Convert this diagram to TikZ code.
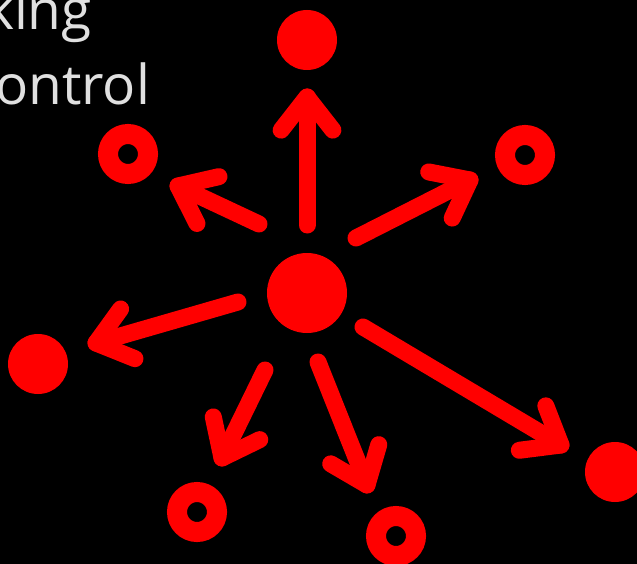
\documentclass[tikz,border=0pt]{standalone}
\usepackage{fontspec}
\setmainfont{Open Sans}
\usetikzlibrary{calc}
\definecolor{txtgray}{RGB}{224,224,224}
\tikzstyle{dot}=[circle,fill=red,inner sep=0pt,minimum size=60pt]
\tikzstyle{hubdot}=[circle,fill=red,inner sep=0pt,minimum size=80pt]
\tikzstyle{ring}=[circle,draw=red,line width=20pt,inner sep=0pt,minimum size=40pt]
\tikzstyle{link}=[red,line width=17pt,line cap=round,line join=round]
\tikzstyle{label}=[anchor=base west,inner sep=0pt,text=txtgray,font=\fontsize{55}{60}\selectfont]
\begin{document}
\begin{tikzpicture}[x=1pt,y=-1pt]
	\fill[black] (0,0) rectangle (637,564);
	\useasboundingbox (0,0) rectangle (637,564);
	\clip (0,0) rectangle (637,564);
	% text cut at the left edge
	\node[label] at (-15,30)(txtA){king};
	\node[label] at (-5,105)(txtB){ontrol};
	% points
	\node[hubdot] at (307,293)(hub){};
	\node[dot] at (307,40)(top){};
	\node[ring] at (128,154)(ul){};
	\node[ring] at (525,155)(ur){};
	\node[dot] at (38,364)(lft){};
	\node[ring] at (197,512)(ll){};
	\node[ring] at (396,536)(lm){};
	\node[dot] at (615,472)(rgt){};
	% arrow ends
	\coordinate (t1) at (307,225); \coordinate (h1) at (307,97);
	\coordinate (t2) at (259,224); \coordinate (h2) at (178,186);
	\coordinate (t3) at (356,238); \coordinate (h3) at (470,180);
	\coordinate (t4) at (238,302); \coordinate (h4) at (96,343);
	\coordinate (t5) at (265,370); \coordinate (h5) at (222,458);
	\coordinate (t6) at (318,362); \coordinate (h6) at (367,485);
	\coordinate (t7) at (363,327); \coordinate (h7) at (561,445);
	\foreach \i in {1,...,7}
	{
		\draw[link] (t\i) -- (h\i);
		\draw[link] ($(h\i)!42pt!38:(t\i)$) -- (h\i) -- ($(h\i)!42pt!-38:(t\i)$);
	}
\end{tikzpicture}
\end{document}
